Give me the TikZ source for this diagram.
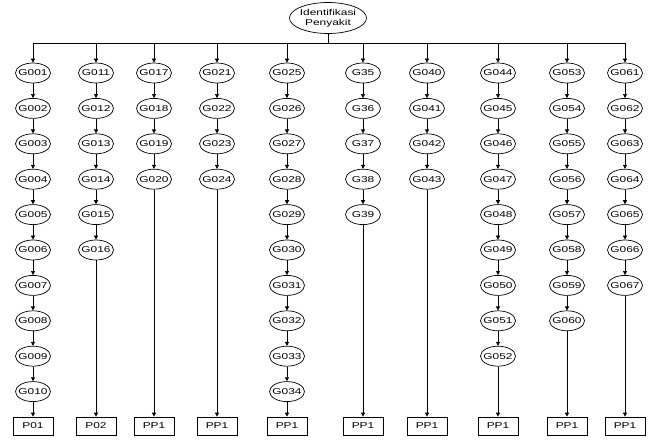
\documentclass[tikz,border=0pt]{standalone}
\usepackage{fontspec}
\setmainfont{Liberation Sans}[FakeStretch=1.4]
\usetikzlibrary{arrows.meta,shapes.geometric,positioning}
\tikzset{>={Triangle[width=4pt,length=4pt]},
    gejala/.style={ellipse, draw=black, line width=0.7pt,
                    minimum width=35pt, minimum height=20pt,
                    inner xsep=-4pt, inner ysep=0pt, font=\fontsize{8.5}{10}\selectfont},
    hasil/.style={rectangle, draw=black, line width=0.7pt,
                    minimum width=40pt, minimum height=18pt, font=\fontsize{8.5}{10}\selectfont},
    panah/.style={->, line width=0.7pt}}
\begin{document}
\begin{tikzpicture}[x=1pt, y=1pt]
    \useasboundingbox (0,0) rectangle (649,-441);
    \node[gejala, minimum width=77pt, minimum height=31pt, inner xsep=-2pt, align=center]
        (identifikasi) at (328,-18) {Identifikasi\\Penyakit};

    \foreach \x/\hasil/\akhir/\daftar [count=\k] in {
        33/P01/G010/{G001,G002,G003,G004,G005,G006,G007,G008,G009,G010},
        96/P02/G016/{G011,G012,G013,G014,G015,G016},
        154/PP1/G020/{G017,G018,G019,G020},
        217/PP1/G024/{G021,G022,G023,G024},
        287/PP1/G034/{G025,G026,G027,G028,G029,G030,G031,G032,G033,G034},
        363/PP1/G39/{G35,G36,G37,G38,G39},
        427/PP1/G043/{G040,G041,G042,G043},
        498/PP1/G052/{G044,G045,G046,G047,G048,G049,G050,G051,G052},
        567/PP1/G060/{G053,G054,G055,G056,G057,G058,G059,G060},
        625/PP1/G067/{G061,G062,G063,G064,G065,G066,G067}} {
        \coordinate (j\k) at (\x,-43);
        \foreach \g [count=\i, remember=\g as \sebelum (initially j\k)] in \daftar {
            \node[gejala] (\g) at (\x,{-73-35.4*(\i-1)}) {\g};
            \draw[panah] (\sebelum) -- (\g);
        }
        \node[hasil] (p\k) at (\x,-426) {\hasil};
        \draw[panah] (\akhir) -- (p\k);
    }

    % garis cabang
    \coordinate (jt) at (identifikasi.south |- j1);
    \draw[line width=0.7pt] (identifikasi) -- (jt);
    \draw[line width=0.7pt] (j1) -- (j10);
\end{tikzpicture}
\end{document}
